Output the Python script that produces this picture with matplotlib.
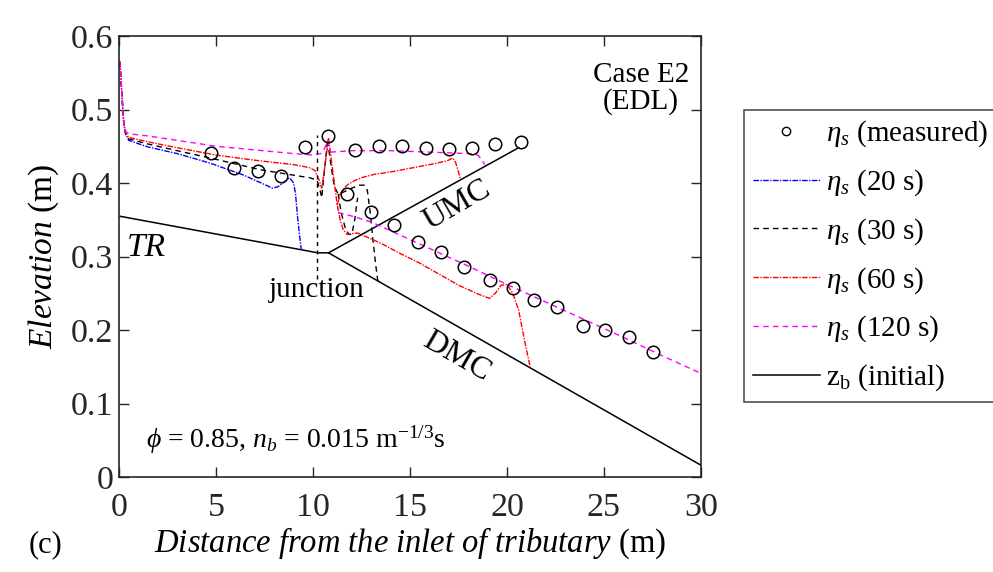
import matplotlib
matplotlib.use("Agg")
import matplotlib.pyplot as plt
from matplotlib.lines import Line2D

plt.rcParams['font.family'] = ['Liberation Serif', 'DejaVu Serif']
plt.rcParams['mathtext.fontset'] = 'custom'
plt.rcParams['mathtext.rm'] = 'Liberation Serif'
plt.rcParams['mathtext.it'] = 'Liberation Serif:italic'
plt.rcParams['mathtext.bf'] = 'Liberation Serif:bold'
plt.rcParams['mathtext.fallback'] = 'stix'

# initial bed (TR, UMC, DMC)
bed_tr_x = [0, 10.25, 10.8]
bed_tr_y = [0.355, 0.305, 0.305]
bed_umc_x = [10.8, 20.6]
bed_umc_y = [0.305, 0.448]
bed_dmc_x = [10.8, 30]
bed_dmc_y = [0.305, 0.016]

# measured water surface
meas_x = [4.74, 5.93, 7.16, 8.35, 9.59, 10.77, 12.16, 13.4, 14.59, 15.82, 17.0, 18.2, 19.4, 20.7,
          11.75, 13.0, 14.2, 15.4, 16.6, 17.8, 19.1, 20.3, 21.4, 22.6, 23.9, 25.05, 26.3, 27.5]
meas_y = [0.441, 0.420, 0.416, 0.410, 0.449, 0.464, 0.445, 0.450, 0.450, 0.448, 0.446, 0.448, 0.453, 0.456,
          0.385, 0.360, 0.343, 0.320, 0.306, 0.286, 0.268, 0.257, 0.241, 0.231, 0.205, 0.200, 0.190, 0.170]

# 20 s
t20_tr_x = [0.05, 0.15, 0.25, 0.35, 0.5, 1.5, 3, 4.7, 6.4, 7.5, 7.9, 8.2, 8.5, 8.8, 9.0, 9.1, 9.2, 9.3, 9.4]
t20_tr_y = [0.565, 0.52, 0.48, 0.466, 0.458, 0.449, 0.44, 0.427, 0.411, 0.398, 0.393, 0.395, 0.401, 0.407,
            0.4, 0.385, 0.355, 0.33, 0.309]

# 30 s
t30_tr_x = [0.05, 0.15, 0.25, 0.35, 0.5, 1.5, 3, 4.7, 7.3, 8.45, 9.85, 10.2, 10.35, 10.45, 10.6, 10.75]
t30_tr_y = [0.565, 0.52, 0.48, 0.466, 0.46, 0.453, 0.444, 0.434, 0.418, 0.413, 0.407, 0.404, 0.392, 0.38,
            0.42, 0.458]
t30_dmc_x = [10.75, 10.95, 11.1, 11.3, 11.6, 12.0, 12.4, 12.65, 12.8, 12.95, 13.1, 13.25, 13.35]
t30_dmc_y = [0.458, 0.42, 0.395, 0.385, 0.388, 0.393, 0.397, 0.397, 0.39, 0.36, 0.32, 0.285, 0.265]
t30_umc_x = [11.3, 11.45, 11.65, 11.85, 12.0, 12.15, 12.3]
t30_umc_y = [0.385, 0.36, 0.34, 0.33, 0.33, 0.35, 0.38]

# 60 s
t60_tr_x = [0.05, 0.15, 0.25, 0.35, 0.5, 1.5, 3, 5, 7, 9, 9.8, 10.1, 10.3, 10.45, 10.6, 10.8]
t60_tr_y = [0.565, 0.52, 0.48, 0.468, 0.462, 0.456, 0.448, 0.438, 0.431, 0.425, 0.421, 0.417, 0.405,
            0.393, 0.42, 0.461]
t60_dmc_x = [10.8, 10.95, 11.1, 11.25, 11.4, 11.55, 11.75, 12.0, 12.3, 13.5, 14.5, 15.5, 16.5, 17.5,
             18.5, 19.1, 19.4, 19.7, 20.0, 20.3, 20.6, 20.9, 21.2]
t60_dmc_y = [0.461, 0.43, 0.40, 0.37, 0.35, 0.337, 0.33, 0.331, 0.332, 0.318, 0.304, 0.291, 0.276, 0.261,
             0.249, 0.243, 0.25, 0.261, 0.262, 0.25, 0.227, 0.186, 0.149]
t60_umc_x = [11.25, 11.4, 11.6, 11.8, 12.2, 12.6, 13.2, 14.0, 15.0, 16.0, 16.9, 17.2, 17.35, 17.5, 17.6]
t60_umc_y = [0.37, 0.385, 0.393, 0.398, 0.404, 0.408, 0.412, 0.415, 0.42, 0.425, 0.43, 0.434, 0.428,
             0.415, 0.405]

# 120 s
t120_tr_x = [0.05, 0.15, 0.25, 0.35, 0.5, 1.5, 3, 5, 7, 9, 10, 10.4, 10.6, 10.75, 10.9]
t120_tr_y = [0.565, 0.52, 0.48, 0.47, 0.467, 0.464, 0.458, 0.45, 0.445, 0.44, 0.438, 0.44, 0.447, 0.458,
             0.442]
t120_umc_x = [10.9, 11.5, 12, 13, 14, 15, 16, 17, 18, 18.5, 18.7, 18.85]
t120_umc_y = [0.442, 0.443, 0.444, 0.444, 0.444, 0.443, 0.442, 0.441, 0.44, 0.438, 0.432, 0.425]
t120_dmc_x = [11.3, 12, 13, 14, 15, 16, 18, 20, 22, 24, 26, 28, 30]
t120_dmc_y = [0.36, 0.355, 0.347, 0.335, 0.323, 0.311, 0.287, 0.262, 0.238, 0.214, 0.19, 0.165, 0.141]

junction_x = [10.2, 10.2]
junction_y = [0.27, 0.465]

fig = plt.figure(figsize=(9.93, 5.72), dpi=100)
ax = fig.add_axes([119 / 993, 1 - 477 / 572, 582 / 993, 441 / 572])

ax.plot(bed_tr_x, bed_tr_y, color='k', lw=1.1)
ax.plot(bed_umc_x, bed_umc_y, color='k', lw=1.1)
ax.plot(bed_dmc_x, bed_dmc_y, color='k', lw=1.1)

dd = (0, (4, 1, 1, 1))
ax.plot(t20_tr_x, t20_tr_y, color='blue', lw=1.0, ls=dd)

for xs, ys in [(t30_tr_x, t30_tr_y), (t30_dmc_x, t30_dmc_y), (t30_umc_x, t30_umc_y)]:
    ax.plot(xs, ys, color='k', lw=1.0, ls=(0, (4, 3)))

for xs, ys in [(t60_tr_x, t60_tr_y), (t60_dmc_x, t60_dmc_y), (t60_umc_x, t60_umc_y)]:
    ax.plot(xs, ys, color='red', lw=1.0, ls=dd)

for xs, ys in [(t120_tr_x, t120_tr_y), (t120_umc_x, t120_umc_y), (t120_dmc_x, t120_dmc_y)]:
    ax.plot(xs, ys, color='magenta', lw=1.0, ls=(0, (4, 3)))

ax.plot(junction_x, junction_y, color='k', lw=1.0, ls=(0, (3, 3)))

ax.plot(meas_x, meas_y, 'o', ms=9, mfc='none', mec='k', mew=1.1)

ax.set_xlim(0, 30)
ax.set_ylim(0, 0.6)
ax.set_xticks([0, 5, 10, 15, 20, 25, 30])
ax.set_yticks([0, 0.1, 0.2, 0.3, 0.4, 0.5, 0.6])
ax.set_yticklabels(['0', '0.1', '0.2', '0.3', '0.4', '0.5', '0.6'])
ax.tick_params(axis='both', direction='in', top=True, right=True, length=7, width=1.0,
               labelsize=24.5, colors='#262626')
ax.tick_params(axis='x', pad=11)
ax.tick_params(axis='y', pad=4)
for s in ax.spines.values():
    s.set_linewidth(1.2)
    s.set_color('#262626')

ax.set_xlabel(r'$\mathit{Distance\ from\ the\ inlet\ of\ tributary}$ (m)', fontsize=23.5, labelpad=2)
ax.set_ylabel(r'$\mathit{Elevation}$ (m)', fontsize=24, labelpad=7)

ax.text(1.4, 0.312, 'TR', fontsize=24, style='italic', ha='center', va='center')
ax.text(10.2, 0.254, 'junction', fontsize=21, ha='center', va='center')
ax.text(17.45, 0.37, 'UMC', fontsize=23, ha='center', va='center', rotation=30)
ax.text(17.4, 0.163, 'DMC', fontsize=23, ha='center', va='center', rotation=-30)
ax.text(26.9, 0.528, 'Case E2\n(EDL)', fontsize=21, ha='center', va='center', linespacing=1.0)
ax.text(1.4, 0.05, r'$\phi$ = 0.85, $n_b$ = 0.015 m$^{-1/3}$s', fontsize=20, ha='left', va='center')

fig.text(45 / 993, 1 - 545 / 572, '(c)', fontsize=22, ha='center', va='center')

handles = [
    Line2D([], [], ls='none', marker='o', ms=6, mfc='none', mec='k', mew=1.0),
    Line2D([], [], color='blue', lw=1.0, ls=dd),
    Line2D([], [], color='k', lw=1.0, ls=(0, (4, 3))),
    Line2D([], [], color='red', lw=1.0, ls=dd),
    Line2D([], [], color='magenta', lw=1.0, ls=(0, (4, 3))),
    Line2D([], [], color='k', lw=1.1),
]
labels = [r'$\eta_s$ (measured)', r'$\eta_s$ (20 s)', r'$\eta_s$ (30 s)', r'$\eta_s$ (60 s)',
          r'$\eta_s$ (120 s)', r'z$_\mathrm{b}$ (initial)']
leg = fig.legend(handles, labels, loc='upper left', bbox_to_anchor=(744 / 993, 1 - 110 / 572),
                 fontsize=21, frameon=True, fancybox=False, edgecolor='#262626',
                 handlelength=2.3, handletextpad=0.2, labelspacing=0.62, borderpad=0.3,
                 borderaxespad=0)
leg.get_frame().set_linewidth(1.2)

fig.savefig('out.png', dpi=100)
